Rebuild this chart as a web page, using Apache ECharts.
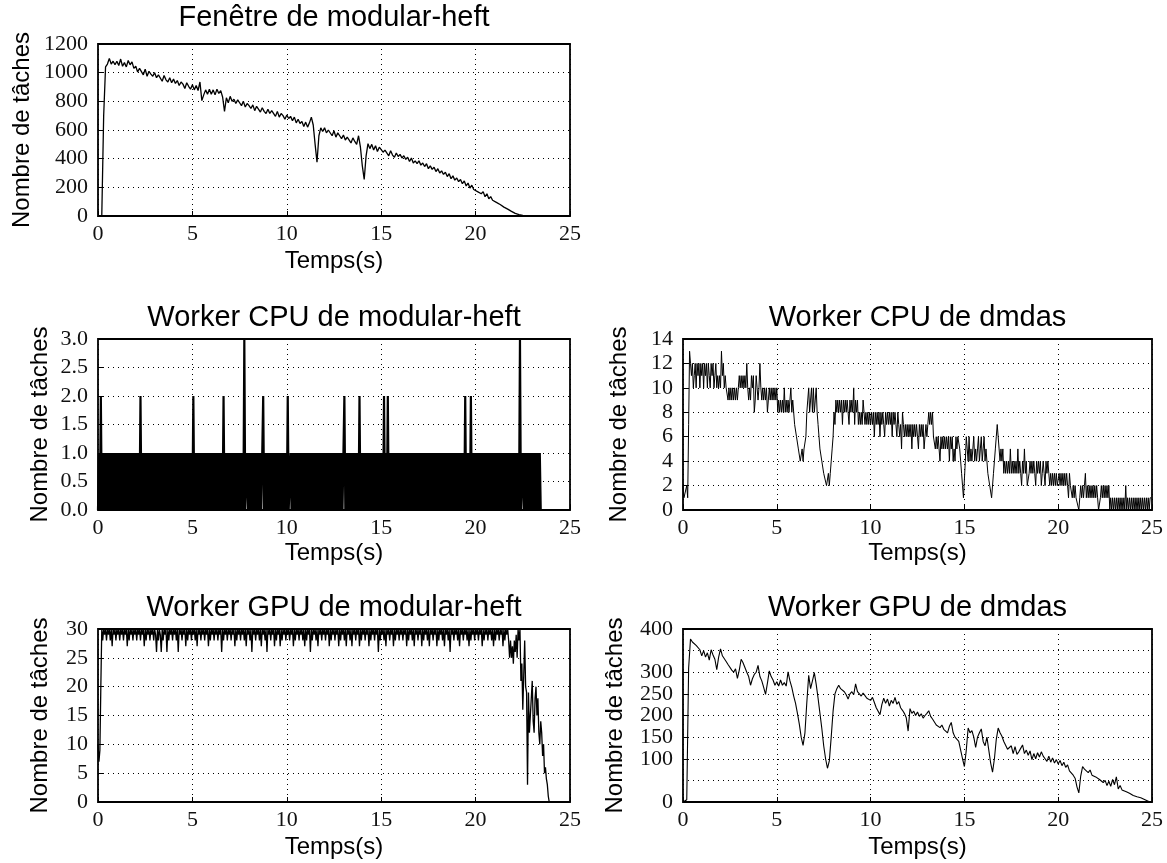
<!DOCTYPE html>
<html><head><meta charset="utf-8">
<script src="https://cdn.jsdelivr.net/npm/echarts@6/dist/echarts.min.js"></script>
<style>html,body{margin:0;padding:0;background:#fff}#c{width:1167px;height:863px}</style>
</head><body><div id="c"></div><script>
// ---- Data (hand) ----
const xTicks = [0, 5, 10, 15, 20, 25];
const titles = ['Fenêtre de modular-heft', 'Worker CPU de modular-heft', 'Worker CPU de dmdas', 'Worker GPU de modular-heft', 'Worker GPU de dmdas'];
const xName = 'Temps(s)';
const yName = 'Nombre de tâches';

// sample spacing (s) of each series
const stepFenetre = 0.1;
const stepCpuHeft = 0.05;
const stepCpuDmdas = 0.05;
const stepGpuHeft = 0.05;
const stepGpuDmdas = 0.1;

const fenetreHeft = [
0,0,0,700,1040,1060,1100,1060,1080,1055,
1080,1050,1095,1045,1070,1040,1085,1055,1075,1030,
1045,1005,1030,1020,985,1025,975,1010,990,975,
1000,965,985,975,940,980,950,935,965,930,
955,925,945,910,935,920,890,930,905,885,
915,880,910,875,935,805,845,880,850,885,
850,880,845,885,855,875,830,730,825,790,
835,800,815,785,810,790,770,800,760,785,
770,750,775,735,765,745,725,755,730,715,
745,715,735,725,695,730,690,715,700,675,
705,680,695,665,690,650,675,645,660,625,
655,620,650,690,635,500,375,560,615,590,
615,580,600,590,560,595,550,580,560,540,
565,530,550,540,510,545,520,500,560,480,
350,255,420,505,470,500,460,490,450,480,
470,445,460,450,420,455,425,410,440,415,
430,405,420,395,410,380,405,370,385,365,
385,355,370,345,365,330,350,325,340,310,
330,300,315,290,305,275,295,260,280,250,
265,240,255,225,245,210,230,195,215,185,
195,170,180,155,170,135,155,120,135,110,
115,95,100,80,88,62,68,48,52,32,
35,18,25,10,14,5,8,3,6,2,
3,1,2,0,1,0,1,0,0
];

const cpuHeft = [
0,1,0,2,0,1,0,1,0,1,0,1,0,1,0,1,0,1,0,1,
0,1,0,1,0,1,0,1,0,1,0,1,0,1,0,1,0,1,0,1,
0,1,0,1,0,2,0,1,0,1,0,1,0,1,0,1,0,1,0,1,
0,1,0,1,0,1,0,1,0,1,0,1,0,1,0,1,0,1,0,1,
0,1,0,1,0,1,0,1,0,1,0,1,0,1,0,1,0,1,0,1,
0,2,0,1,0,1,0,1,0,1,0,1,0,1,0,1,0,1,0,1,
0,1,0,1,0,1,0,1,0,1,0,1,0,2,0,1,0,1,0,1,
0,1,0,1,0,1,0,1,0,1,0,1,0,1,0,3,0,0,1,0,
1,0,1,0,1,0,1,0,1,0,1,0,1,0,1,2,0,1,0,1,
0,1,0,1,0,1,0,1,0,1,0,1,0,1,0,1,0,1,0,1,
0,2,0,0,1,0,1,0,1,0,1,0,1,0,1,0,1,0,1,0,
1,0,1,0,1,0,1,0,1,0,1,0,1,0,1,0,1,0,1,0,
1,0,1,0,1,0,1,0,1,0,1,0,1,0,1,0,1,0,1,0,
1,2,0,1,0,1,0,1,0,1,0,1,0,1,0,1,0,2,0,1,
0,1,0,1,0,1,0,1,0,1,0,1,0,1,0,1,0,1,0,1,
0,1,0,2,0,1,0,2,0,1,0,1,0,1,0,1,0,1,0,1,
0,1,0,1,0,1,0,1,0,1,0,1,0,1,0,1,0,1,0,1,
0,1,0,1,0,1,0,1,0,1,0,1,0,1,0,1,0,1,0,1,
0,1,0,1,0,1,0,1,0,1,0,1,0,1,0,1,0,1,0,1,
0,1,0,1,0,1,0,1,0,2,0,1,0,1,0,2,0,1,0,1,
0,1,0,1,0,1,0,1,0,1,0,1,0,1,0,1,0,1,0,1,
0,1,0,1,0,1,0,1,0,1,0,1,0,1,0,1,0,1,0,1,
0,1,0,1,0,1,0,3,0,0,1,0,1,0,1,0,1,0,1,0,
1,0,1,0,1,0,1,0,1,0,0
];

const cpuDmdas = [
2,1,1,1,2,1,7,13,12,11,12,10,11,12,10,12,11,12,10,12,
11,12,10,12,11,12,10,12,11,10,12,11,12,10,11,12,10,11,10,11,
10,13,11,12,10,11,10,10,9,10,9,10,9,10,9,10,9,10,9,10,
11,10,11,10,11,10,11,10,12,10,9,10,9,11,10,11,8,9,11,10,
9,10,12,10,9,10,9,10,9,10,8,9,10,9,10,9,10,9,10,9,
10,8,9,8,9,8,9,8,10,8,9,8,9,8,9,10,8,9,8,7,
7,6,6,5,5,4,4,5,4,5,5,6,8,9,10,8,9,10,8,10,
8,9,10,8,7,6,5,5,4,4,3,3,3,2,2,3,2,3,4,5,
6,8,7,9,8,9,8,9,8,9,7,9,8,9,8,9,8,7,9,8,
9,8,10,7,9,8,9,7,8,7,8,7,9,8,7,8,7,8,7,8,
7,8,7,8,6,8,7,8,7,8,6,8,7,8,7,6,8,7,8,7,
8,7,8,6,8,7,8,7,6,8,7,6,7,5,8,7,6,7,6,7,
6,7,6,7,5,7,6,7,6,7,6,5,7,6,7,6,7,5,6,7,
6,7,8,7,8,7,8,6,6,5,6,5,6,5,4,6,5,6,5,6,
5,6,5,6,4,6,5,6,4,5,4,6,5,6,6,5,4,3,2,1,
1,4,6,5,4,6,4,5,4,5,6,4,5,4,5,6,4,5,6,4,
5,6,4,5,4,3,3,2,2,1,1,3,4,5,6,7,6,5,4,5,
4,5,3,4,3,4,3,4,3,5,3,4,3,4,3,4,3,5,3,4,
3,2,4,3,5,3,4,2,2,3,4,3,4,3,4,3,2,4,3,4,
3,4,2,3,4,3,2,4,3,4,3,2,3,2,3,2,3,2,3,2,
2,3,2,3,2,3,2,3,2,3,2,1,3,2,2,1,2,1,2,1,
1,1,0,1,2,1,2,1,2,3,1,2,1,2,1,2,1,2,1,2,
1,2,1,0,0,1,2,1,2,1,2,1,2,1,2,0,1,0,1,0,
1,0,1,0,1,0,1,0,1,0,1,0,2,0,1,0,1,0,1,0,
1,0,1,0,1,0,1,0,1,0,1,0,1,0,1,0,1,0,1,1
];

const gpuHeft = [
10,7,9,20,30,28,30,29,30,28,30,29,30,28,30,27,30,29,30,28,
30,29,30,28,30,29,30,28,30,29,30,27,30,28,30,29,30,28,30,29,
30,28,30,29,30,28,30,29,30,27,30,28,30,29,30,28,30,29,30,28,
30,29,26,30,28,30,29,26,30,28,30,29,30,26,30,28,30,29,30,28,
30,29,30,28,30,26,30,29,30,28,30,29,30,27,30,28,30,29,30,28,
30,29,30,28,30,27,30,29,30,28,30,29,30,28,30,29,30,27,30,28,
30,29,30,28,30,29,30,28,30,29,30,26,30,28,30,29,30,28,30,29,
30,28,30,29,30,27,30,28,30,29,30,28,30,29,30,28,30,27,30,29,
30,28,30,26,30,29,30,28,30,29,30,28,30,27,30,29,30,28,30,26,
30,29,30,28,30,29,30,27,30,28,30,29,30,27,30,28,30,29,30,28,
30,29,30,28,30,29,30,27,30,28,30,29,30,28,30,29,30,28,30,27,
30,28,30,29,30,26,30,28,30,29,30,28,30,27,30,29,30,28,30,29,
30,28,30,29,30,27,30,28,30,29,30,28,30,29,30,27,30,28,30,29,
30,28,30,27,30,29,30,28,30,27,30,29,30,28,30,29,30,27,30,28,
30,29,30,28,30,29,30,27,30,28,30,29,30,28,30,29,30,26,30,28,
30,29,30,28,30,27,30,29,30,28,30,29,30,27,30,28,30,29,30,28,
30,29,30,28,30,29,30,27,30,28,30,29,30,28,30,27,30,29,30,28,
30,29,30,27,30,28,30,29,30,28,30,27,30,29,30,28,30,29,30,27,
30,28,30,29,30,28,30,27,30,29,30,28,30,26,30,29,30,28,30,29,
30,28,30,27,30,29,30,28,30,29,30,28,30,27,30,28,30,29,30,28,
30,29,30,28,30,29,30,27,30,28,30,29,30,28,30,29,30,28,30,27,
30,28,30,29,30,28,30,29,30,27,30,28,30,29,30,28,25,28,25,27,
24,28,26,29,25,30,28,30,21,24,16,22,28,20,19,3,19,12,15,18,
21,14,12,18,20,15,18,12,10,14,12,8,10,5,6,4,3,1,0
];

const gpuDmdas = [
0,0,5,310,377,370,366,362,360,352,
338,350,335,345,328,352,340,330,306,335,
354,338,342,325,318,322,305,300,308,286,
305,330,322,325,300,290,270,285,295,300,
316,290,280,265,249,275,303,290,282,270,
278,268,282,270,276,268,301,280,265,245,
228,205,180,150,131,160,230,293,262,280,
299,272,240,205,170,130,100,78,95,150,
210,250,262,270,262,266,255,248,238,250,
255,248,273,255,250,245,252,246,240,244,
235,242,230,218,220,202,225,240,228,238,
222,235,228,242,226,232,218,212,205,195,
164,216,205,210,200,208,198,204,194,200,
205,211,198,192,185,178,182,172,178,168,
170,160,175,184,160,150,148,140,120,100,
82,120,171,160,165,150,126,150,160,169,
140,130,150,120,90,69,100,145,171,160,
152,140,138,122,118,130,112,128,110,116,
124,132,112,120,108,118,98,112,100,114,
104,116,106,100,94,106,92,102,90,98,
88,96,84,92,80,86,72,76,62,55,
35,21,60,82,76,72,68,74,62,66,
58,60,52,55,45,50,38,48,36,52,
40,58,30,38,28,32,24,28,20,22,
15,18,12,14,10,8,6,4,2,0
];

// ---- Chart ----
function pairs(vals, step) { return vals.map((v, i) => [Math.round(i * step * 100) / 100, v]); }

const grids = [
  {left: 98, top: 44, width: 472, height: 172},
  {left: 98, top: 339, width: 472, height: 171},
  {left: 683, top: 339, width: 469, height: 171},
  {left: 98, top: 629, width: 472, height: 173},
  {left: 683, top: 629, width: 469, height: 173}
];
const yCfg = [
  {max: 1200, interval: 200, gap: 64, fmt: v => String(v)},
  {max: 3, interval: 0.5, gap: 46, fmt: v => v.toFixed(1)},
  {max: 14, interval: 2, gap: 52, fmt: v => String(v)},
  {max: 30, interval: 5, gap: 46, fmt: v => String(v)},
  {max: 400, interval: 50, gap: 56, fmt: v => String(v)}
];
const lineWidths = [1.3, 2.2, 1.0, 1.3, 1.1];
const xGaps = [33, 31, 31, 33, 33];
const titleY = [18, 318, 318, 608, 608];
const seriesData = [
  pairs(fenetreHeft, stepFenetre),
  pairs(cpuHeft, stepCpuHeft),
  pairs(cpuDmdas, stepCpuDmdas),
  pairs(gpuHeft, stepGpuHeft),
  pairs(gpuDmdas, stepGpuDmdas)
];

const tickFont = {fontFamily: 'Liberation Serif', fontSize: 22, color: '#111'};
const nameFont = {fontFamily: 'Liberation Sans', fontSize: 24, color: '#000'};
const split = {show: true, lineStyle: {color: '#000', type: [1, 4], width: 1}};

const option = {
  animation: false,
  backgroundColor: '#fff',
  grid: grids.map(g => Object.assign({show: true, borderColor: '#000', borderWidth: 1.8, backgroundColor: 'transparent'}, g)),
  xAxis: grids.map((g, i) => ({
    type: 'value', gridIndex: i, min: xTicks[0], max: xTicks[xTicks.length - 1], interval: 5,
    name: xName, nameLocation: 'middle', nameGap: xGaps[i], nameTextStyle: nameFont,
    axisLine: {show: false}, axisTick: {show: true, inside: true, length: 5, lineStyle: {color: '#000'}},
    axisLabel: Object.assign({margin: 7, interval: 0, showMinLabel: true, showMaxLabel: true, hideOverlap: false}, tickFont), splitLine: split
  })),
  yAxis: grids.map((g, i) => ({
    type: 'value', gridIndex: i, min: 0, max: yCfg[i].max, interval: yCfg[i].interval,
    name: yName, nameLocation: 'middle', nameGap: yCfg[i].gap, nameTextStyle: nameFont,
    axisLine: {show: false}, axisTick: {show: true, inside: true, length: 5, lineStyle: {color: '#000'}},
    axisLabel: Object.assign({margin: 10, interval: 0, lineHeight: 16, formatter: yCfg[i].fmt, showMinLabel: true, showMaxLabel: true, hideOverlap: false}, tickFont), splitLine: split
  })),
  series: seriesData.map((d, i) => ({
    type: 'line', xAxisIndex: i, yAxisIndex: i, data: d, showSymbol: false, symbol: 'none',
    sampling: null, lineStyle: {color: '#000', width: lineWidths[i]}, clip: true, z: 3
  })),
  graphic: titles.map((t, i) => ({
    type: 'text', x: grids[i].left + grids[i].width / 2, y: titleY[i],
    style: {text: t, fill: '#000', font: '29px "Liberation Sans"', align: 'center', verticalAlign: 'middle', textAlign: 'center', textVerticalAlign: 'middle'}
  }))
};
const chart = echarts.init(document.getElementById('c'), null, {renderer: 'canvas'});
chart.setOption(option);
</script></body></html>
